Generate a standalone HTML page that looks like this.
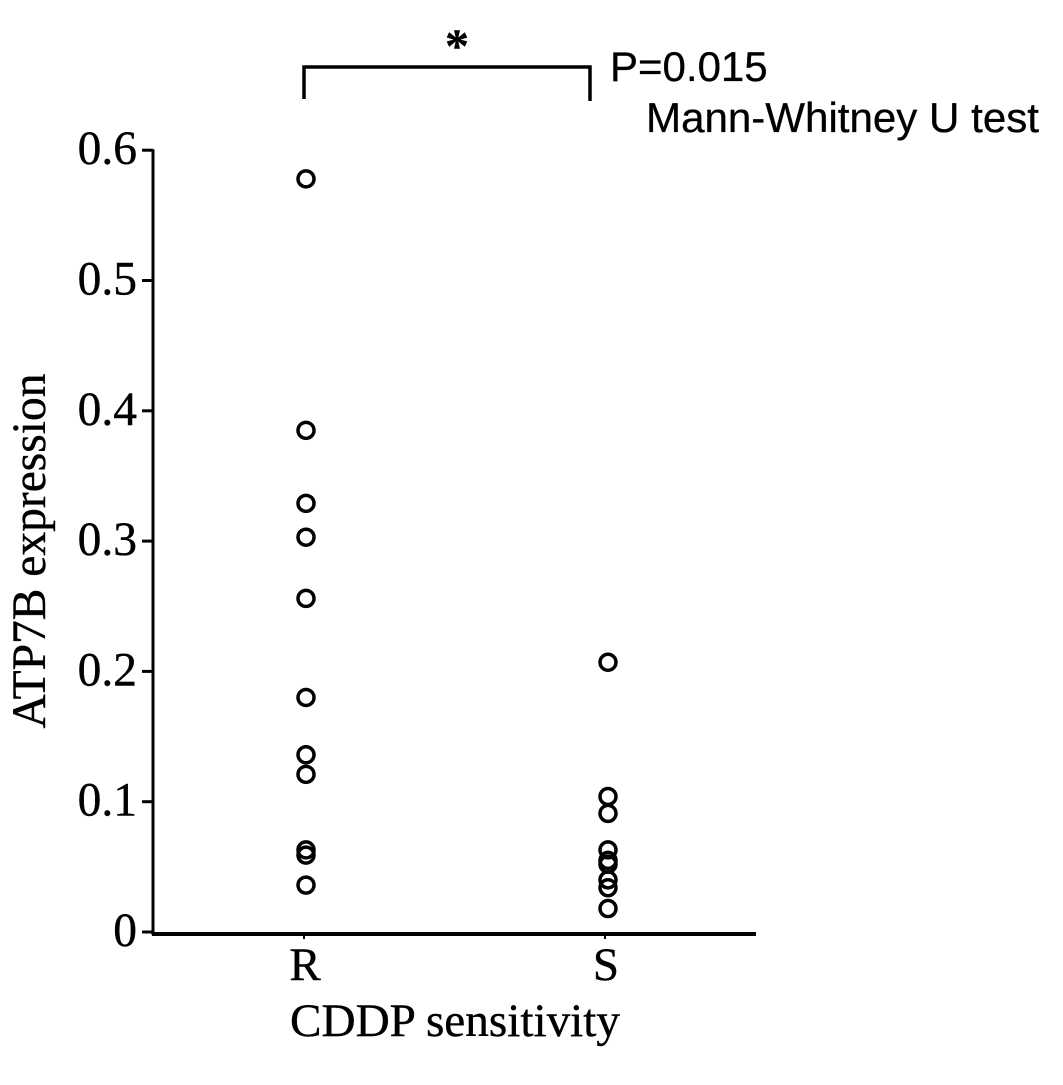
<!DOCTYPE html>
<html>
<head>
<meta charset="utf-8">
<style>
html,body{margin:0;padding:0;background:#fff;width:1063px;height:1085px;overflow:hidden}
svg{display:block}
.serif{font-family:"Liberation Serif",serif;fill:#000;stroke:#000;stroke-width:.4}
.sans{font-family:"Liberation Sans",sans-serif;fill:#000;stroke:#000;stroke-width:.3}
</style>
</head>
<body>
<svg id="chart" width="1063" height="1085" viewBox="0 0 1063 1085">
  <g id="axes"></g>
  <g id="points"></g>
  <text class="serif" x="0" y="0" font-size="47.5" text-anchor="middle" transform="translate(45,551) rotate(-90)">ATP7B expression</text>
  <text class="serif" x="455" y="1036" font-size="47" text-anchor="middle" textLength="330" lengthAdjust="spacingAndGlyphs">CDDP sensitivity</text>
  <path d="M304 99V67H590V101" fill="none" stroke="#000" stroke-width="3.5"/>
  <text class="serif" x="457" y="62" font-size="48" font-weight="bold" text-anchor="middle">*</text>
  <text class="sans" x="610" y="81" font-size="42">P=0.015</text>
  <text class="sans" x="646" y="132" font-size="42" textLength="393" lengthAdjust="spacingAndGlyphs">Mann-Whitney U test</text>
</svg>
<script>
var yTickValues = [0, 0.1, 0.2, 0.3, 0.4, 0.5, 0.6];
var yTickLabels = ['0', '0.1', '0.2', '0.3', '0.4', '0.5', '0.6'];
var categories = ['R', 'S'];
var seriesR = [0.578, 0.385, 0.329, 0.303, 0.256, 0.180, 0.136, 0.121, 0.063, 0.059, 0.036];
var seriesS = [0.207, 0.104, 0.091, 0.063, 0.055, 0.052, 0.040, 0.034, 0.018];

var NS = 'http://www.w3.org/2000/svg';
function yScale(v) { return 932 - v * 1303; }
function xScale(i) { return 306 + i * 301; }
function make(tag, attrs, parent) {
  var el = document.createElementNS(NS, tag);
  for (var k in attrs) { el.setAttribute(k, attrs[k]); }
  parent.appendChild(el);
  return el;
}
var axes = document.getElementById('axes');
var pts = document.getElementById('points');

var yAxis = make('line', {x1: 153, x2: 153, y1: yScale(0.6) - 1, y2: 935, stroke: '#000', 'stroke-width': 3}, axes);


var xAxis = make('line', {x1: 152, x2: 756, y1: 934, y2: 934, stroke: '#000', 'stroke-width': 4}, axes);



yTickValues.forEach(function (v, i) {
  var y = yScale(v);
  var tick = make('line', {x1: 142, x2: 153, y1: y, y2: y, stroke: '#000', 'stroke-width': 3}, axes);
  
  
  var label = make('text', {x: 137, y: y + 14, 'font-size': 47.5, 'text-anchor': 'end', 'class': 'serif'}, axes);
  
  
  label.textContent = yTickLabels[i];
});

categories.forEach(function (c, i) {
  var x = xScale(i);
  var tick = make('line', {x1: x - 2, x2: x - 2, y1: 935, y2: 939, stroke: '#000', 'stroke-width': 2}, axes);
  
  
  var label = make('text', {x: x - 1, y: 980, 'font-size': 47, 'text-anchor': 'middle', 'class': 'serif'}, axes);
  
  
  label.textContent = c;
});

[seriesR, seriesS].forEach(function (series, i) {
  series.forEach(function (v) {
    var pt = make('circle', {cx: xScale(i) + (i ? 1 : 0), cy: yScale(v), r: 8, fill: 'none', stroke: '#000', 'stroke-width': 3.5}, pts);
    
    
  });
});
</script>
</body>
</html>
